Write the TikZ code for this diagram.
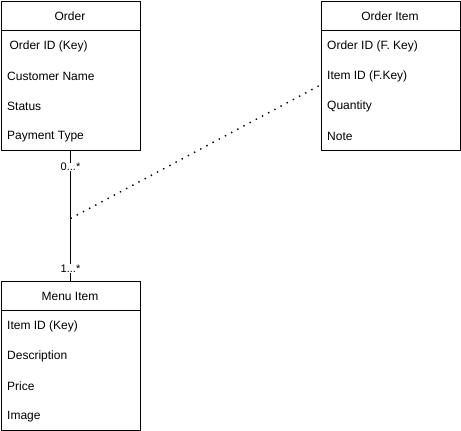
\documentclass[tikz,border=0pt]{standalone}
\usepackage{fontspec}
\setmainfont{Liberation Sans}
\begin{document}
\begin{tikzpicture}[x=1pt,y=-1pt,
  box/.style={draw=black,line width=1pt,fill=white,anchor=north west,minimum width=139.5pt,minimum height=149.5pt,inner sep=0pt},
  hdr/.style={font=\fontsize{12}{14}\selectfont,inner sep=0pt,anchor=center},
  row/.style={font=\fontsize{12}{14}\selectfont,inner sep=0pt,anchor=west},
  mult/.style={font=\fontsize{11}{13}\selectfont,fill=white,inner sep=0.5pt,anchor=center},
  conn/.style={line width=1pt,draw=black},
  dotted link/.style={line width=1.4pt,dash pattern=on 1.4pt off 5.6pt,draw=black}
]
\useasboundingbox (0,0) rectangle (461,431);

% Order
\node[box] (order) at (0.5,0.5) {};
\draw[line width=1pt] (0.5,30.5) -- (140,30.5);
\node[hdr] (orderh) at (70,16.5) {Order};
\node[row] (o1) at (6,46.5) {\ Order ID (Key)};
\node[row] (o2) at (7,76.5) {Customer Name};
\node[row] (o3) at (7,106.5) {Status};
\node[row] (o4) at (7,136.5) {Payment Type};

% Order Item
\node[box] (oitem) at (320.5,0.5) {};
\draw[line width=1pt] (320.5,30.5) -- (460,30.5);
\node[hdr] (oitemh) at (390,16.5) {Order Item};
\node[row] (i1) at (327,46.5) {Order ID (F. Key)};
\node[row] (i2) at (327,76.5) {Item ID (F.Key)};
\node[row] (i3) at (327,106.5) {Quantity};
\node[row] (i4) at (327,136.5) {Note};

% Menu Item
\node[box] (menu) at (0.5,280.5) {};
\draw[line width=1pt] (0.5,310.5) -- (140,310.5);
\node[hdr] (menuh) at (70,296.5) {Menu Item};
\node[row] (m1) at (7,326.5) {Item ID (Key)};
\node[row] (m2) at (7,356.5) {Description};
\node[row] (m3) at (7,386.5) {Price};
\node[row] (m4) at (7,416.5) {Image};

% connectors
\coordinate (mid) at (70.5,218.5);
\coordinate (oitemin) at (320.5,85);
\draw[conn] (order.south -| mid) -- (menu.north -| mid);
\draw[dotted link] (mid) -- (oitemin);
\node[mult] (m0) at (70.5,167) {0...*};
\node[mult] (m1m) at (70.5,268.5) {1...*};
\end{tikzpicture}
\end{document}
